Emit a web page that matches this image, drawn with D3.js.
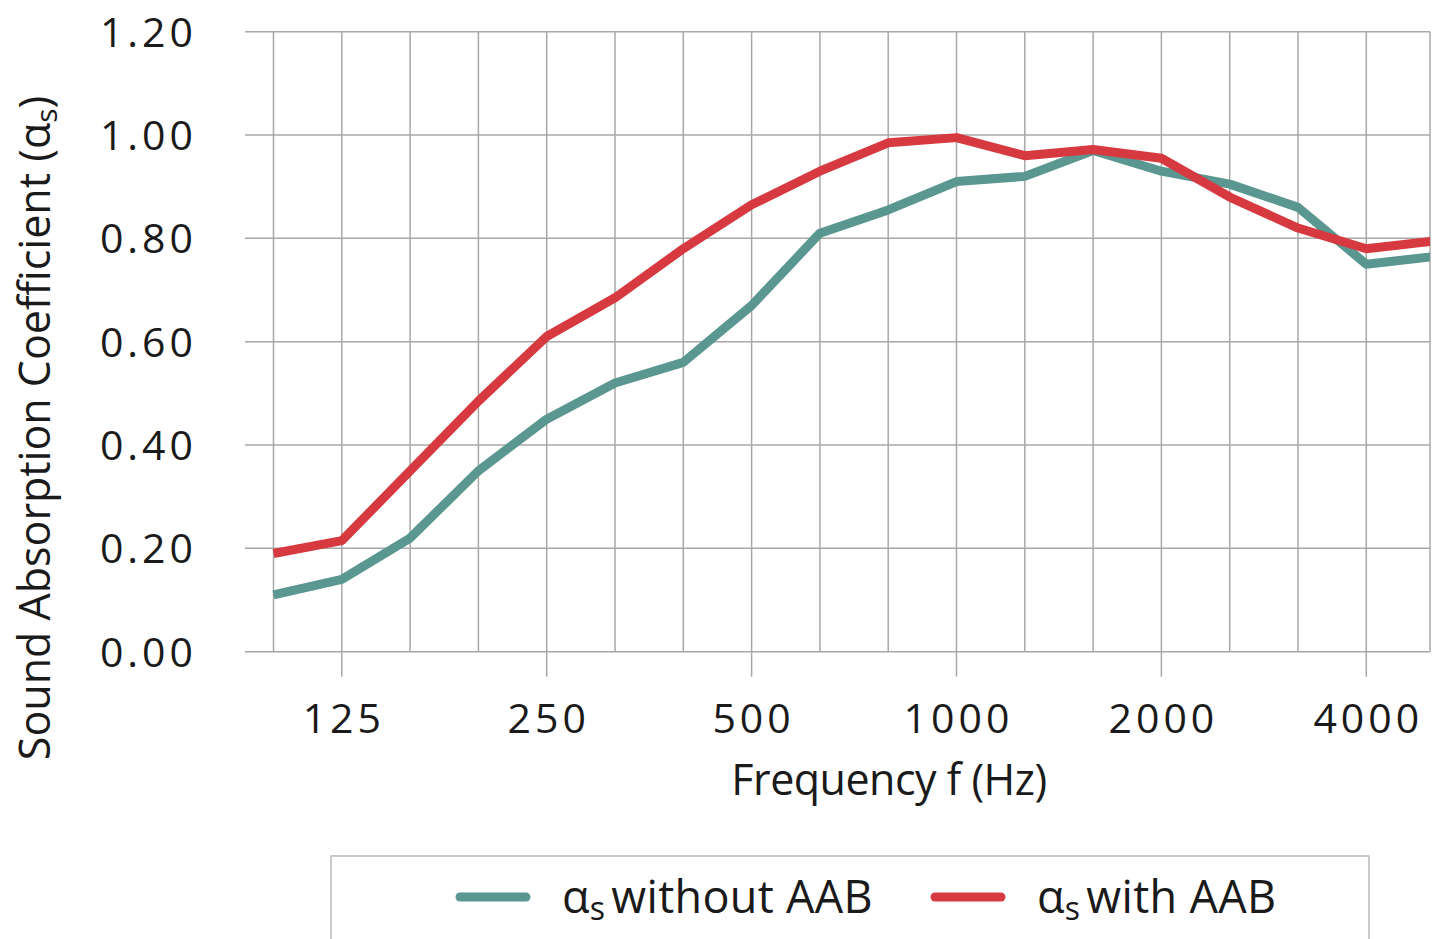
<!DOCTYPE html>
<meta charset="utf-8">
<html>
<head>
  <script src="https://cdnjs.cloudflare.com/ajax/libs/d3/7.8.5/d3.min.js"></script>
  <style>
    body { margin: 0; background: #fff; }
    text { font-family: "Open Sans", "Noto Sans", sans-serif; fill: #1a1a1a; }
  </style>
</head>
<body>
<div id="chart"></div>
<script>
// third-octave bands (Hz)
var bands = [100, 125, 160, 200, 250, 315, 400, 500, 630, 800, 1000, 1250, 1600, 2000, 2500, 3150, 4000, 5000];
var labelledBands = [125, 250, 500, 1000, 2000, 4000];
var yTicks = [0, 0.2, 0.4, 0.6, 0.8, 1.0, 1.2];

// alpha_s without / with AAB
var withoutAAB = [0.11, 0.14, 0.22, 0.35, 0.45, 0.52, 0.56, 0.67, 0.81, 0.855, 0.91, 0.92, 0.97, 0.93, 0.905, 0.86, 0.75, 0.765];
var withAAB    = [0.19, 0.215, 0.35, 0.485, 0.61, 0.685, 0.78, 0.865, 0.93, 0.985, 0.995, 0.96, 0.972, 0.955, 0.88, 0.82, 0.78, 0.795];

var seriesNames = ["without AAB", "with AAB"];
var seriesColors = ["#5a9791", "#d6393f"];

var width = 1442, height = 939;
var plotLeft = 245, plotRight = 1430, plotTop = 31.7, plotBottom = 651.7;

var svg = d3.select("#chart").append("svg")
  .attr("width", width)
  .attr("height", height);

var x = d3.scalePoint()
  .domain(bands)
  .range([273.5, 1434.6]);

var y = d3.scaleLinear()
  .domain([0, 1.2])
  .range([plotBottom, plotTop]);

var gridColor = "#a8a8a8";

// horizontal grid
svg.append("g").selectAll("line")
  .data(yTicks)
  .enter().append("line")
  .attr("x1", plotLeft).attr("x2", plotRight)
  .attr("y1", function(d){ return y(d); })
  .attr("y2", function(d){ return y(d); })
  .style("stroke", gridColor).style("stroke-width", 1.5);

// vertical grid (longer at labelled octaves)
svg.append("g").selectAll("line")
  .data(bands.filter(function(d){ return x(d) < plotRight; }))
  .enter().append("line")
  .attr("x1", function(d){ return x(d); })
  .attr("x2", function(d){ return x(d); })
  .attr("y1", plotTop)
  .attr("y2", function(d){ return labelledBands.indexOf(d) >= 0 ? plotBottom + 25 : plotBottom; })
  .style("stroke", gridColor).style("stroke-width", 1.5);

// right border
svg.append("line")
  .attr("x1", plotRight).attr("x2", plotRight)
  .attr("y1", plotTop).attr("y2", plotBottom)
  .style("stroke", gridColor).style("stroke-width", 1.5);

// y tick labels
svg.append("g").selectAll("text")
  .data(yTicks)
  .enter().append("text")
  .attr("x", 197)
  .attr("y", function(d){ return y(d) + 15; })
  .attr("text-anchor", "end")
  .style("font-size", "41px")
  .style("letter-spacing", "4px")
  .text(function(d){ return d.toFixed(2); });

// x tick labels
svg.append("g").selectAll("text")
  .data(labelledBands)
  .enter().append("text")
  .attr("x", function(d){ return x(d) + 2; })
  .attr("y", 733)
  .attr("text-anchor", "middle")
  .style("font-size", "41px")
  .style("letter-spacing", "4px")
  .text(function(d){ return d; });

// axis titles
svg.append("text")
  .attr("x", 889).attr("y", 795)
  .attr("text-anchor", "middle")
  .style("font-size", "43px")
  .style("letter-spacing", "-0.5px")
  .text("Frequency f (Hz)");

var yTitle = svg.append("text")
  .attr("transform", "translate(50,428) rotate(-90)")
  .attr("text-anchor", "middle")
  .style("font-size", "43px")
  .style("letter-spacing", "0px");
yTitle.append("tspan").text("Sound Absorption Coefficient (α");
yTitle.append("tspan").attr("dy", 7).style("font-size", "30px").text("s");
yTitle.append("tspan").attr("dy", -7).text(")");

// lines
svg.append("clipPath").attr("id", "clip")
  .append("rect")
  .attr("x", plotLeft).attr("y", 0)
  .attr("width", plotRight - plotLeft).attr("height", plotBottom + 10);

var line = d3.line()
  .x(function(d, i){ return x(bands[i]); })
  .y(function(d){ return y(d); });

svg.append("g").attr("clip-path", "url(#clip)")
  .selectAll("path")
  .data([withoutAAB, withAAB])
  .enter().append("path")
  .attr("d", line)
  .style("fill", "none")
  .style("stroke", function(d, i){ return seriesColors[i]; })
  .style("stroke-width", 9)
  .style("stroke-linejoin", "round");

// legend
svg.append("rect")
  .attr("x", 331).attr("y", 856)
  .attr("width", 1038).attr("height", 100)
  .style("fill", "#fff")
  .style("stroke", "#b8b8b8").style("stroke-width", 1.5);

var legendX = [460, 935];
var legend = svg.append("g").selectAll("g")
  .data(seriesNames)
  .enter().append("g")
  .attr("transform", function(d, i){ return "translate(" + legendX[i] + ",897)"; });

legend.append("line")
  .attr("x1", 0).attr("x2", 66)
  .style("stroke", function(d, i){ return seriesColors[i]; })
  .style("stroke-width", 9)
  .style("stroke-linecap", "round");

var lt = legend.append("text")
  .attr("x", 102).attr("y", 16)
  .style("font-size", "45px")
  .style("letter-spacing", "0.3px");
lt.append("tspan").text("α");
lt.append("tspan").attr("dy", 7).style("font-size", "32px").text("s");
lt.append("tspan").attr("dy", -7).attr("dx", 6).text(function(d){ return d; });
</script>
</body>
</html>
